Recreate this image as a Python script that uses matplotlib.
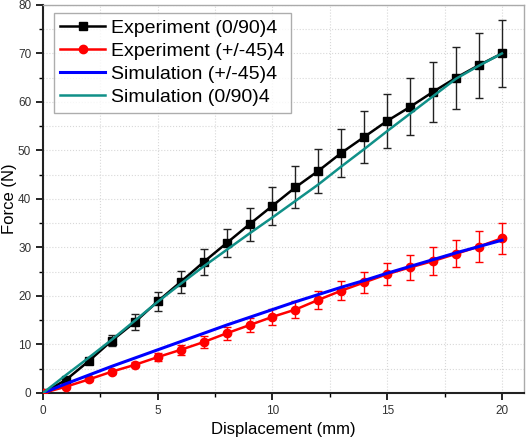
import numpy as np
import matplotlib
matplotlib.use("Agg")
import matplotlib.pyplot as plt
from matplotlib.ticker import MultipleLocator
from matplotlib.lines import Line2D

plt.rcParams['font.family'] = ['Liberation Sans', 'DejaVu Sans']

# experiment data, 0..20 mm
disp = list(range(0, 21))
exp_090 = [0, 2.7, 6.6, 10.8, 14.6, 18.9, 22.9, 27.0, 30.9, 34.8, 38.6,
           42.4, 45.8, 49.5, 52.8, 56.1, 59.0, 62.1, 65.0, 67.6, 70.0]
exp_090_err = [0, 0.3, 0.5, 1.1, 1.6, 1.9, 2.3, 2.6, 2.9, 3.4, 3.9,
               4.3, 4.6, 4.9, 5.3, 5.5, 5.9, 6.2, 6.4, 6.7, 7.0]
exp_45 = [0, 1.3, 2.8, 4.4, 5.8, 7.4, 8.9, 10.5, 12.3, 14.0, 15.7,
          17.2, 19.2, 21.1, 22.8, 24.5, 25.9, 27.2, 28.7, 30.2, 31.9]
exp_45_err = [0, 0.2, 0.3, 0.4, 0.5, 0.8, 1.0, 1.2, 1.3, 1.5, 1.6,
              1.7, 1.8, 2.0, 2.2, 2.3, 2.6, 2.8, 2.8, 3.1, 3.2]

# simulation curves
sim_x = [0, 1, 2, 3, 4, 5, 6, 7, 8, 9, 10, 11, 12, 13, 14, 15, 16, 17, 18, 19, 20]
sim_090 = [0, 3.7, 7.3, 11.0, 14.9, 18.8, 22.5, 26.1, 29.5, 32.9, 36.2,
           39.6, 43.0, 46.7, 50.3, 54.0, 57.6, 61.2, 64.8, 67.5, 70.0]
sim_45 = [0, 1.9, 3.7, 5.5, 7.2, 8.9, 10.6, 12.3, 14.0, 15.6, 17.2,
          18.8, 20.3, 21.8, 23.2, 24.7, 26.1, 27.5, 28.9, 30.2, 31.5]

fig = plt.figure(figsize=(5.28, 4.37), dpi=100)
ax = fig.add_axes([0.0814, 0.1007, 0.9110, 0.8879])

ax.errorbar(disp, exp_090, yerr=exp_090_err, color='black', lw=1.8,
            marker='s', ms=5.5, ecolor='#222222', elinewidth=1.0,
            capsize=3, capthick=1.0, zorder=3)
ax.errorbar(disp, exp_45, yerr=exp_45_err, color='#ff0000', lw=1.8,
            marker='o', ms=6, ecolor='#ff0000', elinewidth=1.0,
            capsize=3, capthick=1.0, zorder=3)
h3, = ax.plot(sim_x, sim_45, color='#0000ff', lw=2.2, label='Simulation (+/-45)4', zorder=4)
h4, = ax.plot(sim_x, sim_090, color='#109088', lw=1.8, label='Simulation (0/90)4', zorder=4)

h1 = Line2D([], [], color='black', lw=1.8, marker='s', ms=5.5, label='Experiment (0/90)4')
h2 = Line2D([], [], color='#ff0000', lw=1.8, marker='o', ms=6, label='Experiment (+/-45)4')

ax.set_xlim(0, 20.96)
ax.set_ylim(0, 80)
ax.xaxis.set_major_locator(MultipleLocator(5))
ax.xaxis.set_minor_locator(MultipleLocator(2.5))
ax.yaxis.set_major_locator(MultipleLocator(10))
ax.yaxis.set_minor_locator(MultipleLocator(5))
ax.grid(True, which='both', color='#d8d8d8', ls=':', lw=0.8)
ax.set_axisbelow(True)

for s in ['left', 'bottom']:
    ax.spines[s].set_linewidth(1.5)
    ax.spines[s].set_color('#222222')
for s in ['top', 'right']:
    ax.spines[s].set_linewidth(1.0)
    ax.spines[s].set_color('#aaaaaa')

ax.tick_params(which='major', direction='out', length=5, width=1.2,
               labelsize=8.5, labelcolor='#333333', top=False, right=False)
ax.tick_params(which='minor', direction='out', length=3, width=1.0,
               top=False, right=False)

ax.set_xlabel('Displacement (mm)', fontsize=12, labelpad=4)
ax.set_ylabel('Force (N)', fontsize=12, labelpad=1)

leg = ax.legend(handles=[h1, h2, h3, h4], loc='upper left',
                bbox_to_anchor=(0.022, 0.98), fontsize=14,
                frameon=True, fancybox=False, edgecolor='#999999',
                handlelength=2.3, labelspacing=0.27, borderpad=0.35,
                handletextpad=0.3, borderaxespad=0)
leg.get_frame().set_linewidth(1.0)

fig.savefig('out.png', dpi=100)
